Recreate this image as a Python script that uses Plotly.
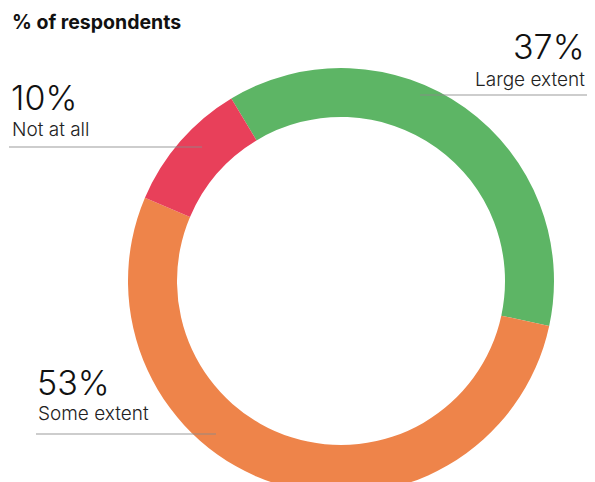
import plotly.graph_objects as go

# Survey shares
categories = ["Large extent", "Some extent", "Not at all"]
values = [37, 53, 10]
colors = ["#5db565", "#ee844a", "#e8405a"]
title_text = "% of respondents"

W, H = 595, 494
FONT = "Inter, Roboto, Arial, sans-serif"


def px(x):
    return x / W


def py(y):
    return 1 - y / H


fig = go.Figure(
    go.Pie(
        labels=categories,
        values=values,
        marker=dict(colors=colors, line=dict(width=0)),
        hole=0.77,
        sort=False,
        direction="clockwise",
        rotation=-31,
        textinfo="none",
        hoverinfo="label+percent",
        showlegend=False,
        domain=dict(x=[px(341 - 213), px(341 + 213)], y=[0, 1 - 68 / H]),
    )
)

# label layout: (category index, x, anchor, value y, name y, leader line y, line x0, line x1)
label_layout = [
    (0, 587, "right", 46.5, 79, 95, 420, 587),
    (2, 9, "left", 97.5, 129, 147, 9, 202),
    (1, 35, "left", 382.5, 413, 434, 36, 216),
]

annotations = [
    dict(text="<b>" + title_text + "</b>", x=px(10), y=py(22), xref="paper", yref="paper",
         xanchor="left", yanchor="middle", showarrow=False,
         font=dict(family=FONT, size=19.5, color="#111111"))
]
shapes = []
for i, x, anchor, yv, yn, yl, lx0, lx1 in label_layout:
    annotations.append(dict(text=f"{values[i]}%", x=px(x), y=py(yv), xref="paper", yref="paper",
                            xanchor=anchor, yanchor="middle", showarrow=False,
                            font=dict(family=FONT, size=34, color="#111111", weight=300)))
    annotations.append(dict(text=categories[i], x=px(x + (1 if anchor == "left" else 0)), y=py(yn),
                            xref="paper", yref="paper", xanchor=anchor, yanchor="middle",
                            showarrow=False,
                            font=dict(family=FONT, size=19, color="#222222", weight=300)))
    shapes.append(dict(type="line", xref="paper", yref="paper", x0=px(lx0), x1=px(lx1),
                       y0=py(yl), y1=py(yl), line=dict(color="rgba(140,140,140,0.85)", width=1.2),
                       layer="above"))

fig.update_layout(
    width=W,
    height=H,
    margin=dict(l=0, r=0, t=0, b=0),
    paper_bgcolor="white",
    plot_bgcolor="white",
    annotations=annotations,
    shapes=shapes,
)

fig.write_html(
    "out.html",
    config={"displayModeBar": False},
    post_script="document.documentElement.style.overflow='hidden';document.body.style.overflow='hidden';",
)
